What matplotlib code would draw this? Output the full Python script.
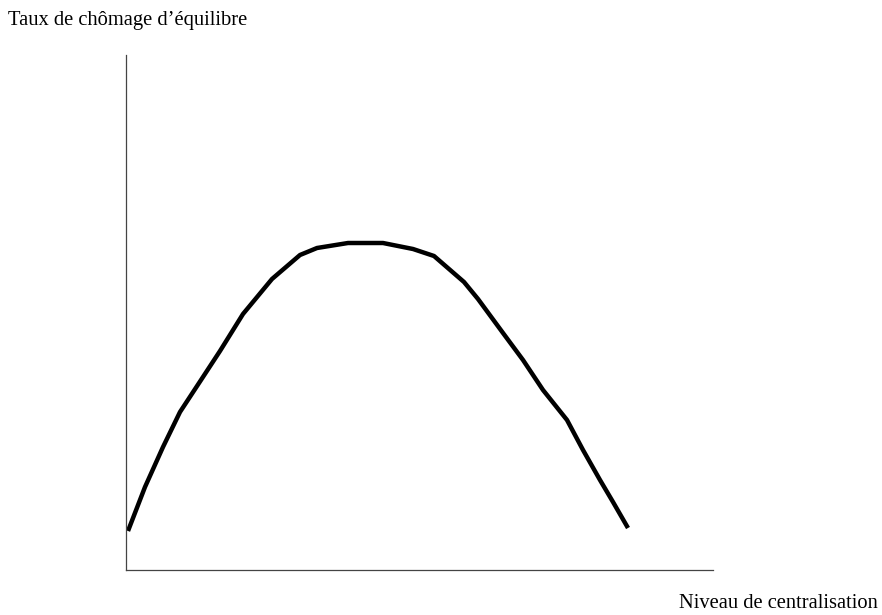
import matplotlib
matplotlib.use("Agg")
import matplotlib.pyplot as plt

# curve (x: centralisation level, y: equilibrium unemployment)
centralisation = [2, 19, 37, 54, 75, 94, 117, 146, 174, 191, 222, 257, 287,
                  308, 338, 352, 377, 397, 417, 441, 457, 474, 487, 502]
chomage = [39, 83, 123, 158, 190, 219, 256, 291, 315, 322, 327, 327, 321,
           314, 288, 271, 237, 210, 180, 150, 120, 90, 68, 42]

x_label = "Niveau de centralisation"
y_label = "Taux de chômage d\u2019équilibre"

plt.rcParams["font.family"] = ["Liberation Serif", "DejaVu Serif"]

fig = plt.figure(figsize=(8.82, 6.15), dpi=100)
ax = fig.add_axes([126 / 882, 45 / 615, 587 / 882, 515 / 615])

ax.plot(centralisation, chomage, color="black", linewidth=3.2,
        solid_capstyle="butt", solid_joinstyle="round")

ax.set_xlim(0, 587)
ax.set_ylim(0, 515)
ax.set_xticks([])
ax.set_yticks([])
for side in ["top", "right"]:
    ax.spines[side].set_visible(False)
for side in ["left", "bottom"]:
    ax.spines[side].set_color("#444444")
    ax.spines[side].set_linewidth(0.9)

fig.text(8 / 882, 1 - 20 / 615, y_label, fontsize=14.8, va="center", ha="left")
fig.text(878 / 882, 1 - 603 / 615, x_label, fontsize=14.8, va="center", ha="right")

fig.savefig("out.png", dpi=100)
